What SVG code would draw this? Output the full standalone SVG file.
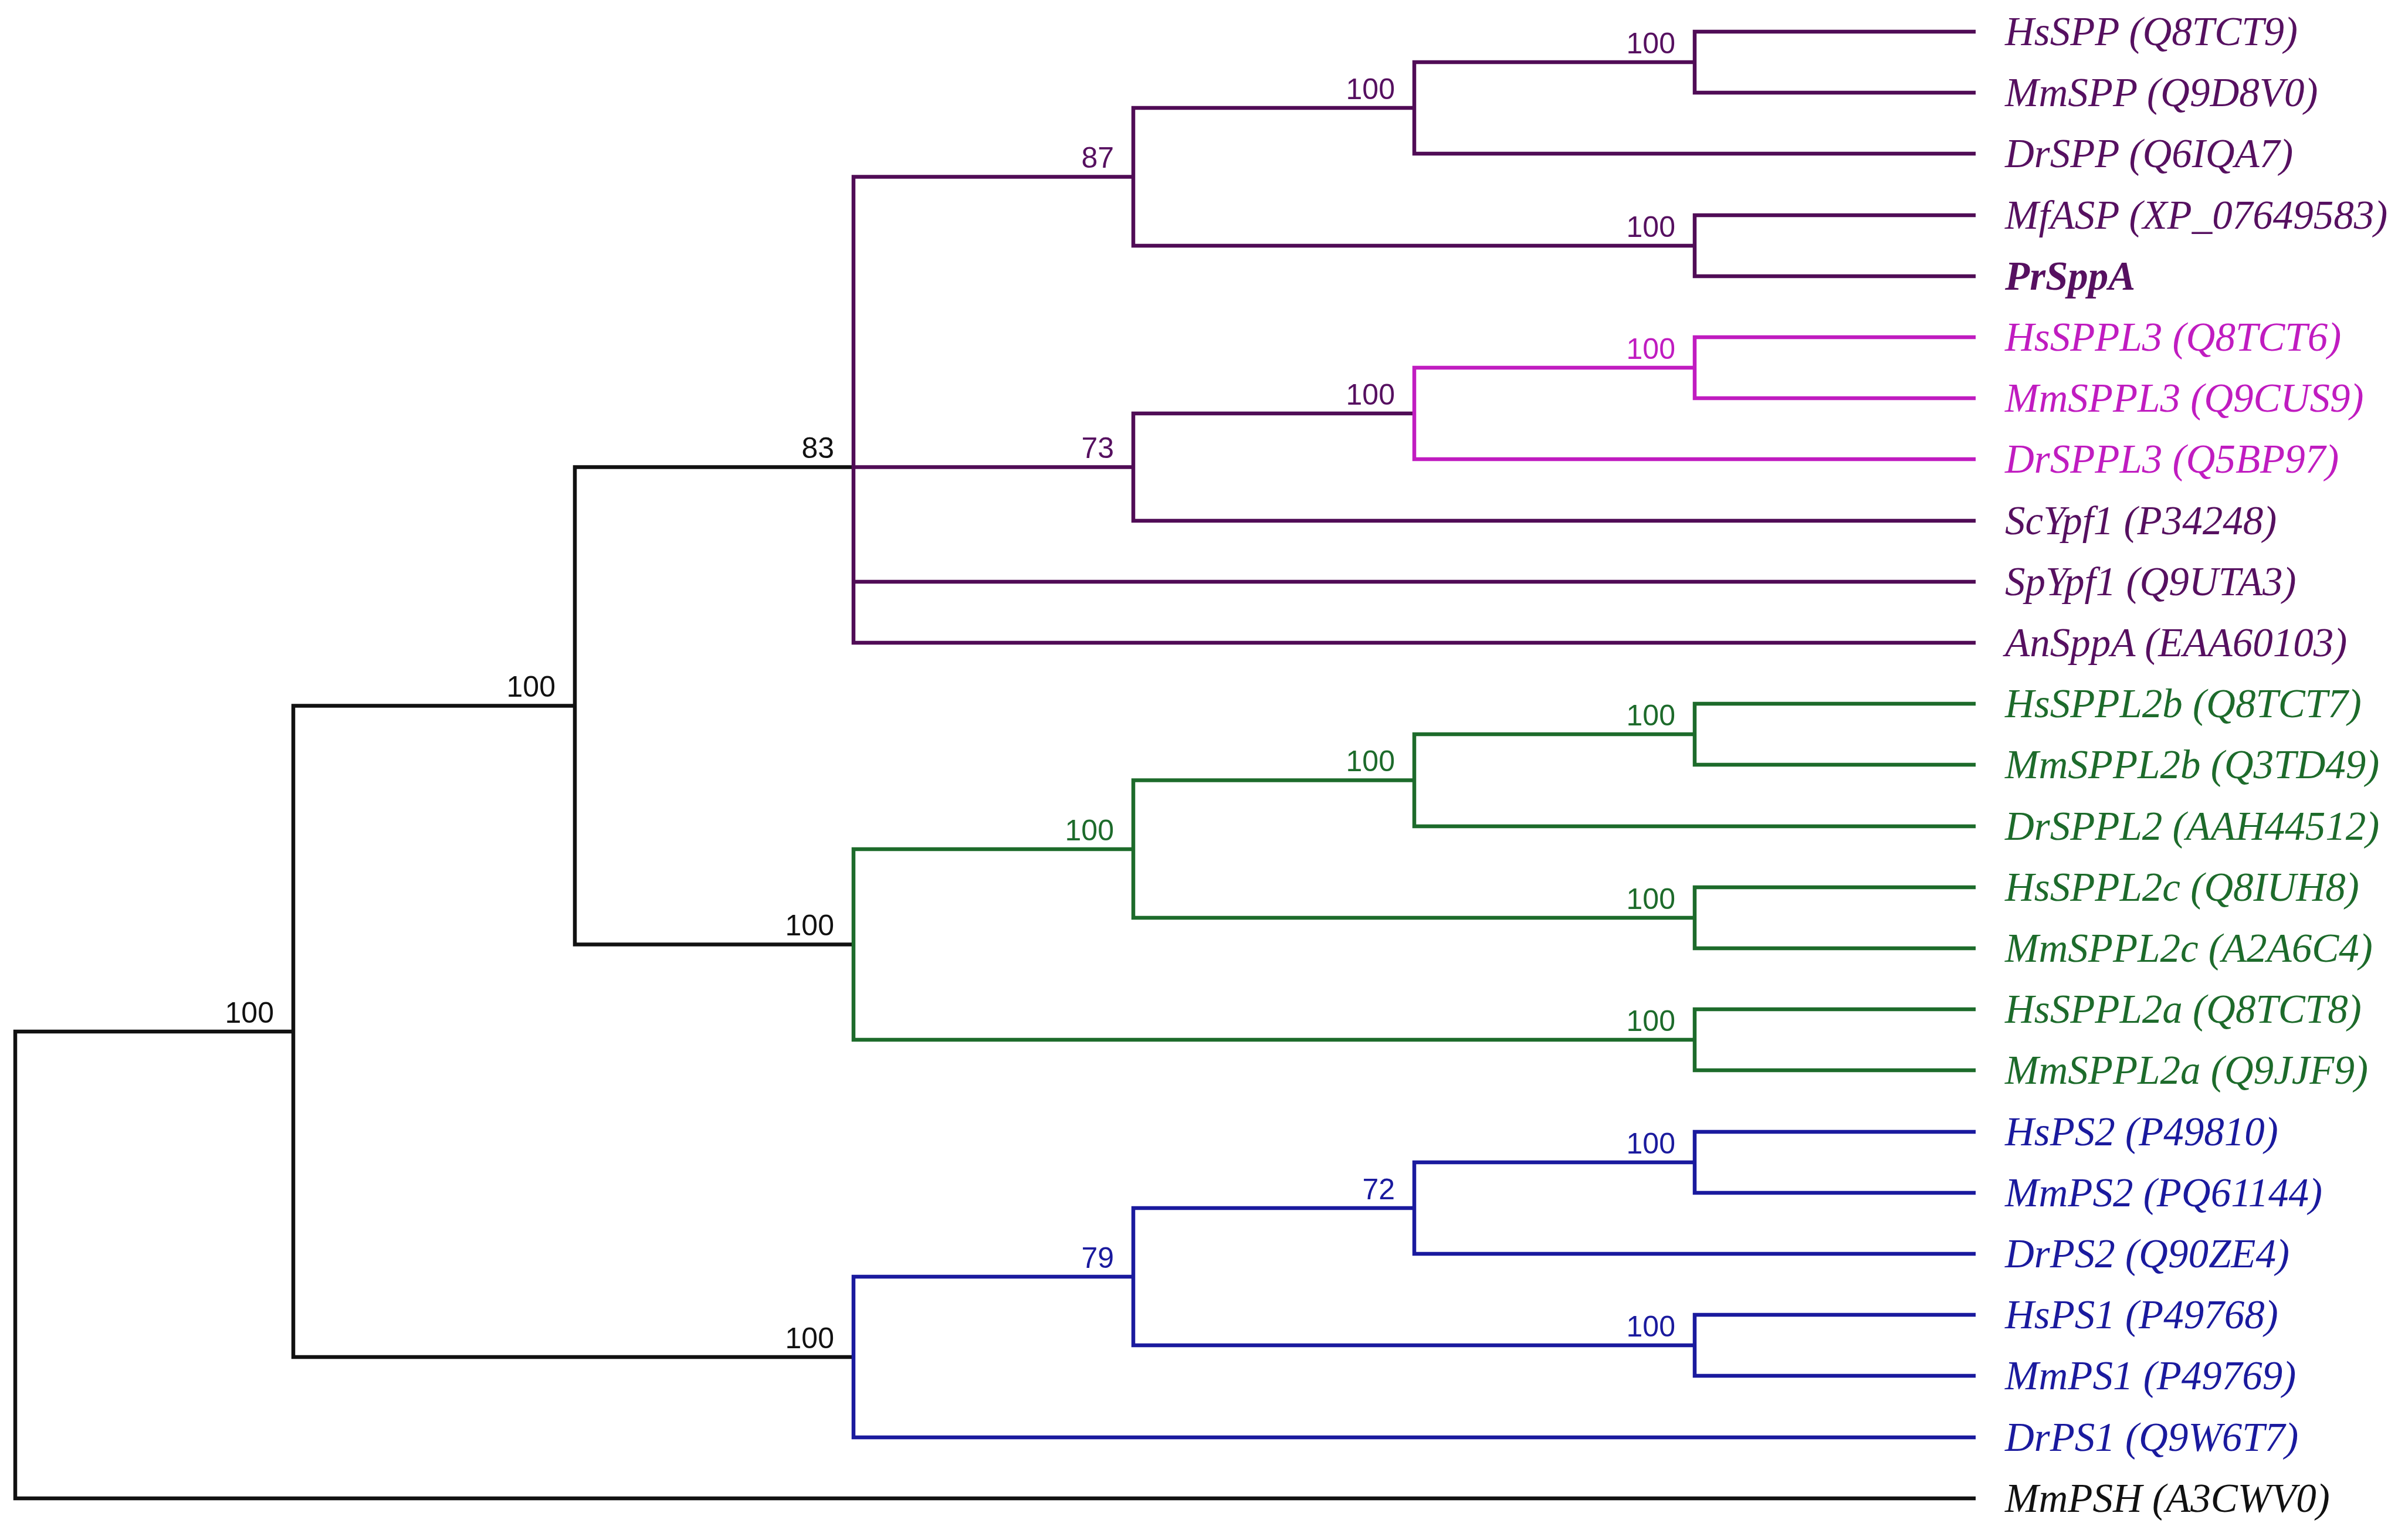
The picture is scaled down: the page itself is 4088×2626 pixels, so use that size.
<svg xmlns="http://www.w3.org/2000/svg" width="4088" height="2626" viewBox="0 0 4088 2626">
<style>
.e{fill:none;stroke-width:6.5;stroke-linejoin:miter;stroke-linecap:butt}
.k{stroke:#111111}.p{stroke:#500c56}.m{stroke:#c01cc0}.g{stroke:#1d6b2b}.b{stroke:#1a1a9e}
.bs{font-family:"Liberation Sans",Arial,sans-serif;font-size:50px;text-anchor:end}
.lf{font-family:"Liberation Serif","Times New Roman",serif;font-style:italic;font-size:69px}
.tk{fill:#111111}.tp{fill:#561060}.tm{fill:#c01cc0}.tg{fill:#1d6b2b}.tb{fill:#1a1a9e}
</style>
<rect width="4088" height="2626" fill="#ffffff"/>
<g id="connectors">
<path class="e k" d="M500 1759H26V2555H3368"/>
<path class="e k" d="M980 1203.5H500V2314H1455"/>
<path class="e k" d="M1455 796.5H980V1610.5H1455"/>
<path class="e p" d="M1932 301.5H1455V1096H3368M1455 796.5H1932M1455 992H3368"/>
<path class="e p" d="M2411 184H1932V419H2889"/>
<path class="e p" d="M2889 106H2411V262H3368"/>
<path class="e p" d="M3368 54H2889V158H3368"/>
<path class="e p" d="M3368 367H2889V471H3368"/>
<path class="e p" d="M2411 705H1932V888H3368"/>
<path class="e m" d="M2889 627H2411V783H3368"/>
<path class="e m" d="M3368 575H2889V679H3368"/>
<path class="e g" d="M1932 1448H1455V1773H2889"/>
<path class="e g" d="M2411 1330.5H1932V1565H2889"/>
<path class="e g" d="M2889 1252H2411V1409H3368"/>
<path class="e g" d="M3368 1200H2889V1304H3368"/>
<path class="e g" d="M3368 1513H2889V1617H3368"/>
<path class="e g" d="M3368 1721H2889V1825H3368"/>
<path class="e b" d="M1932 2177H1455V2451H3368"/>
<path class="e b" d="M2411 2060H1932V2294H2889"/>
<path class="e b" d="M2889 1982H2411V2138H3368"/>
<path class="e b" d="M3368 1930H2889V2034H3368"/>
<path class="e b" d="M3368 2242H2889V2346H3368"/>
</g>
<g id="support">
<g id="n-spp1"><text class="bs tp" x="2856" y="91">100</text></g>
<g id="n-spp"><text class="bs tp" x="2378" y="169">100</text></g>
<g id="n-mf"><text class="bs tp" x="2856" y="404">100</text></g>
<g id="n-e"><text class="bs tp" x="1899" y="286">87</text></g>
<g id="n-l3a"><text class="bs tm" x="2856" y="612">100</text></g>
<g id="n-l3"><text class="bs tp" x="2378" y="690">100</text></g>
<g id="n-f"><text class="bs tp" x="1899" y="781">73</text></g>
<g id="n-c"><text class="bs tk" x="1422" y="781">83</text></g>
<g id="n-2b"><text class="bs tg" x="2856" y="1237">100</text></g>
<g id="n-h"><text class="bs tg" x="2378" y="1315">100</text></g>
<g id="n-2c"><text class="bs tg" x="2856" y="1550">100</text></g>
<g id="n-g"><text class="bs tg" x="1899" y="1433">100</text></g>
<g id="n-2a"><text class="bs tg" x="2856" y="1758">100</text></g>
<g id="n-d"><text class="bs tk" x="1422" y="1595">100</text></g>
<g id="n-b"><text class="bs tk" x="947" y="1188">100</text></g>
<g id="n-ps2"><text class="bs tb" x="2856" y="1967">100</text></g>
<g id="n-j"><text class="bs tb" x="2378" y="2045">72</text></g>
<g id="n-ps1"><text class="bs tb" x="2856" y="2279">100</text></g>
<g id="n-i"><text class="bs tb" x="1899" y="2162">79</text></g>
<g id="n-ps"><text class="bs tk" x="1422" y="2299">100</text></g>
<g id="n-a"><text class="bs tk" x="467" y="1744">100</text></g>
</g>
<g id="leaves">
<g id="leaf-HsSPP"><text class="lf tp" x="3418" y="77">HsSPP (Q8TCT9)</text></g>
<g id="leaf-MmSPP"><text class="lf tp" x="3418" y="181">MmSPP (Q9D8V0)</text></g>
<g id="leaf-DrSPP"><text class="lf tp" x="3418" y="285">DrSPP (Q6IQA7)</text></g>
<g id="leaf-MfASP"><text class="lf tp" x="3418" y="390">MfASP (XP_07649583)</text></g>
<g id="leaf-PrSppA"><text class="lf tp" x="3418" y="494" font-weight="bold">PrSppA</text></g>
<g id="leaf-HsSPPL3"><text class="lf tm" x="3418" y="598">HsSPPL3 (Q8TCT6)</text></g>
<g id="leaf-MmSPPL3"><text class="lf tm" x="3418" y="702">MmSPPL3 (Q9CUS9)</text></g>
<g id="leaf-DrSPPL3"><text class="lf tm" x="3418" y="806">DrSPPL3 (Q5BP97)</text></g>
<g id="leaf-ScYpf1"><text class="lf tp" x="3418" y="911">ScYpf1 (P34248)</text></g>
<g id="leaf-SpYpf1"><text class="lf tp" x="3418" y="1015">SpYpf1 (Q9UTA3)</text></g>
<g id="leaf-AnSppA"><text class="lf tp" x="3418" y="1119">AnSppA (EAA60103)</text></g>
<g id="leaf-HsSPPL2b"><text class="lf tg" x="3418" y="1223">HsSPPL2b (Q8TCT7)</text></g>
<g id="leaf-MmSPPL2b"><text class="lf tg" x="3418" y="1327">MmSPPL2b (Q3TD49)</text></g>
<g id="leaf-DrSPPL2"><text class="lf tg" x="3418" y="1432">DrSPPL2 (AAH44512)</text></g>
<g id="leaf-HsSPPL2c"><text class="lf tg" x="3418" y="1536">HsSPPL2c (Q8IUH8)</text></g>
<g id="leaf-MmSPPL2c"><text class="lf tg" x="3418" y="1640">MmSPPL2c (A2A6C4)</text></g>
<g id="leaf-HsSPPL2a"><text class="lf tg" x="3418" y="1744">HsSPPL2a (Q8TCT8)</text></g>
<g id="leaf-MmSPPL2a"><text class="lf tg" x="3418" y="1848">MmSPPL2a (Q9JJF9)</text></g>
<g id="leaf-HsPS2"><text class="lf tb" x="3418" y="1953">HsPS2 (P49810)</text></g>
<g id="leaf-MmPS2"><text class="lf tb" x="3418" y="2057">MmPS2 (PQ61144)</text></g>
<g id="leaf-DrPS2"><text class="lf tb" x="3418" y="2161">DrPS2 (Q90ZE4)</text></g>
<g id="leaf-HsPS1"><text class="lf tb" x="3418" y="2265">HsPS1 (P49768)</text></g>
<g id="leaf-MmPS1"><text class="lf tb" x="3418" y="2369">MmPS1 (P49769)</text></g>
<g id="leaf-DrPS1"><text class="lf tb" x="3418" y="2474">DrPS1 (Q9W6T7)</text></g>
<g id="leaf-MmPSH"><text class="lf tk" x="3418" y="2578">MmPSH (A3CWV0)</text></g>
</g>
</svg>
